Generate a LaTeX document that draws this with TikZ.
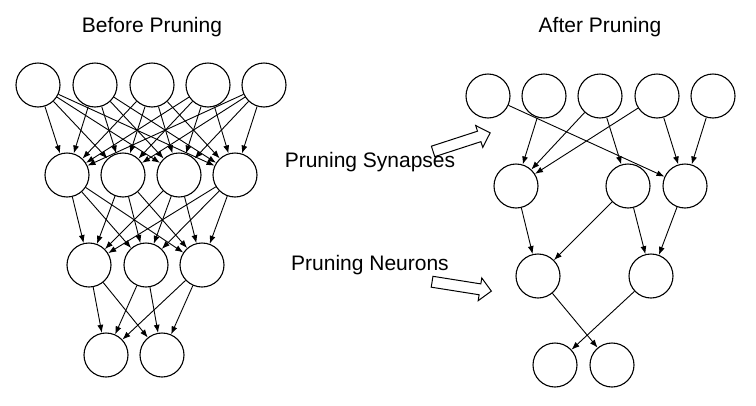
\documentclass[tikz,border=0pt]{standalone}
\usepackage{fontspec}
\setmainfont{Liberation Sans}
\usetikzlibrary{shapes.arrows,arrows.meta}
\begin{document}
\begin{tikzpicture}[x=1pt,y=-1pt,
  neuron/.style={circle,draw,line width=1.1pt,minimum size=44pt,inner sep=0pt},
  syn/.style={-{Latex[length=8pt,width=6pt]},line width=0.9pt},
  lbl/.style={font=\fontsize{21}{24}\selectfont},
  bigarrow/.style={single arrow,draw,line width=1pt,minimum height=60pt,inner sep=5pt,single arrow head extend=6pt}]
  \useasboundingbox (0,0) rectangle (756,405);

  \node[lbl] (before) at (152,27) {Before Pruning};
  \node[lbl] (after) at (600,27) {After Pruning};

  % before pruning
  \foreach \x [count=\i] in {38,95,152,208,264} \node[neuron] (a\i) at (\x,85) {};
  \foreach \x [count=\i] in {67,123,179,235} \node[neuron] (b\i) at (\x,175) {};
  \foreach \x [count=\i] in {89,146,202} \node[neuron] (c\i) at (\x,265) {};
  \foreach \x [count=\i] in {106,162} \node[neuron] (d\i) at (\x,355) {};

  \foreach \i in {1,...,5} \foreach \j in {1,...,4} \draw[syn] (a\i) -- (b\j);
  \foreach \i in {1,...,4} \foreach \j in {1,...,3} \draw[syn] (b\i) -- (c\j);
  \foreach \i in {1,...,3} \foreach \j in {1,2} \draw[syn] (c\i) -- (d\j);

  % after pruning
  \foreach \x [count=\i] in {488,544,600,657,713} \node[neuron] (p\i) at (\x,96) {};
  \foreach \x [count=\i] in {516,628,685} \node[neuron] (q\i) at (\x,186) {};
  \foreach \x [count=\i] in {538,651} \node[neuron] (r\i) at (\x,276) {};
  \foreach \x [count=\i] in {555,612} \node[neuron] (s\i) at (\x,365) {};

  \foreach \i/\j in {1/3,2/1,3/1,3/2,4/1,4/3,5/3} \draw[syn] (p\i) -- (q\j);
  \foreach \i/\j in {1/1,2/1,2/2,3/2} \draw[syn] (q\i) -- (r\j);
  \foreach \i/\j in {1/2,2/1} \draw[syn] (r\i) -- (s\j);

  % pruning steps
  \node[lbl] (synapses) at (370,162) {Pruning Synapses};
  \node[bigarrow,rotate=18] (synarrow) at (459,143) {};
  \node[lbl] (neurons) at (370,265) {Pruning Neurons};
  \node[bigarrow,rotate=-9] (neuarrow) at (459,286) {};
\end{tikzpicture}
\end{document}
